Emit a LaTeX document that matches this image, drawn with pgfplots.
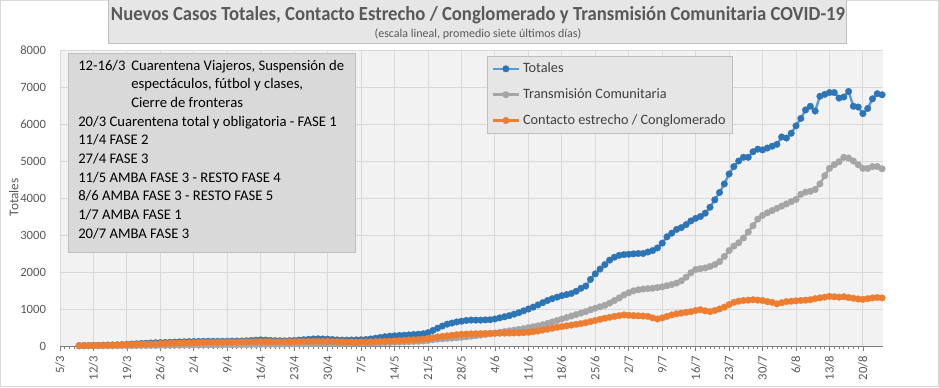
\documentclass[border=0pt]{standalone}
\usepackage{fontspec}
\setmainfont{Carlito}
\newfontfamily\ttlf{Carlito}[FakeStretch=0.935]
\usepackage{pgfplots}
\usepackage{pgfplotstable}
\pgfplotsset{compat=1.18}
\definecolor{bgc}{HTML}{F2F2F2}
\definecolor{gridc}{HTML}{D9D9D9}
\definecolor{axc}{HTML}{7F7F7F}
\definecolor{tickc}{HTML}{595959}
\definecolor{bluemk}{HTML}{2E75B6}
\definecolor{blueln}{HTML}{5B9BD5}
\definecolor{grayc}{HTML}{A5A5A5}
\definecolor{orangec}{HTML}{ED7D31}
\definecolor{boxfill}{HTML}{D9D9D9}
\definecolor{boxdraw}{HTML}{BFBFBF}
\definecolor{legfill}{HTML}{E6E6E6}
\definecolor{txtc}{HTML}{404040}

\pgfplotstableread{
day tot tc ce
4 10 2 8
5 12 2 10
6 15 3 12
7 18 3 14
8 20 4 16
9 22 4 18
10 25 5 20
11 28 5 24
12 32 6 28
13 38 7 32
14 45 8 36
15 52 9 40
16 60 10 44
17 68 11 48
18 75 12 52
19 82 13 56
20 88 14 60
21 92 15 64
22 96 17 68
23 100 18 72
24 105 20 76
25 110 21 80
26 115 22 84
27 118 24 88
28 122 25 92
29 125 26 95
30 126 27 98
31 128 28 100
32 128 29 100
33 127 30 102
34 128 31 104
35 130 32 105
36 132 33 106
37 133 34 108
38 135 35 110
39 140 36 112
40 148 38 115
41 158 40 118
42 165 42 120
43 160 43 118
44 150 44 116
45 145 45 115
46 142 46 114
47 140 47 115
48 145 48 116
49 150 50 118
50 160 52 120
51 170 54 122
52 180 56 124
53 190 58 125
54 195 60 126
55 190 62 125
56 185 63 124
57 175 64 122
58 165 65 118
59 160 66 114
60 160 67 110
61 162 68 108
62 165 70 108
63 168 72 110
64 175 75 112
65 190 78 115
66 210 82 118
67 230 86 122
68 250 90 126
69 265 95 130
70 275 100 135
71 285 105 145
72 290 110 155
73 300 115 165
74 310 120 170
75 320 125 175
76 330 135 185
77 360 150 200
78 420 170 225
79 480 185 245
80 540 195 260
81 590 205 275
82 620 215 290
83 650 225 305
84 670 235 315
85 690 250 322
86 700 265 328
87 700 280 332
88 700 295 335
89 705 310 338
90 710 330 340
91 730 350 342
92 760 370 345
93 790 390 348
94 820 410 350
95 860 430 352
96 900 450 355
97 950 470 360
98 1000 495 370
99 1050 520 385
100 1110 545 405
101 1170 575 430
102 1230 610 455
103 1280 650 480
104 1320 690 505
105 1360 730 525
106 1390 770 545
107 1420 810 565
108 1480 850 585
109 1560 890 605
110 1620 930 630
111 1800 980 660
112 1950 1020 690
113 2080 1060 720
114 2200 1100 750
115 2320 1160 775
116 2400 1230 800
117 2450 1300 820
118 2470 1380 840
119 2480 1440 830
120 2490 1490 820
121 2500 1520 815
122 2500 1540 810
123 2540 1550 800
124 2580 1560 760
125 2650 1580 730
126 2780 1600 760
127 2950 1630 800
128 3050 1660 840
129 3150 1700 870
130 3200 1760 890
131 3280 1860 910
132 3380 1980 930
133 3450 2070 960
134 3500 2090 980
135 3590 2110 950
136 3750 2150 930
137 3950 2200 960
138 4150 2280 1000
139 4380 2420 1050
140 4650 2580 1120
141 4850 2700 1180
142 5000 2790 1210
143 5100 2920 1230
144 5100 3080 1240
145 5250 3250 1250
146 5320 3430 1240
147 5300 3530 1230
148 5350 3600 1200
149 5400 3660 1180
150 5450 3720 1140
151 5650 3780 1170
152 5620 3840 1200
153 5750 3900 1210
154 5950 3960 1220
155 6150 4100 1230
156 6380 4160 1240
157 6480 4180 1250
158 6350 4230 1280
159 6750 4380 1300
160 6800 4600 1320
161 6850 4800 1340
162 6850 4900 1330
163 6700 4980 1320
164 6730 5100 1330
165 6880 5080 1310
166 6480 5000 1290
167 6460 4900 1270
168 6280 4800 1260
169 6420 4800 1280
170 6680 4850 1300
171 6820 4850 1310
172 6790 4790 1300
}\data

\begin{document}
\begin{tikzpicture}
\begin{axis}[
  at={(45pt,30.75pt)}, anchor=south west,
  scale only axis, width=617.25pt, height=222pt,
  xmin=0, xmax=172.2, ymin=0, ymax=8000,
  xtick={0,7,...,168},
  xticklabels={5/3,12/3,19/3,26/3,2/4,9/4,16/4,23/4,30/4,7/5,14/5,21/5,28/5,4/6,11/6,18/6,25/6,2/7,9/7,16/7,23/7,30/7,6/8,13/8,20/8},
  minor x tick num=6,
  ytick={0,1000,...,8000},
  grid=major,
  major grid style={draw=gridc, line width=0.75pt},
  axis background/.style={fill=bgc},
  axis x line*=bottom, axis y line*=left,
  x axis line style={draw=axc, line width=0.75pt, -},
  y axis line style={draw=none},
  ytick style={draw=none},
  xtick style={draw=axc, line width=0.6pt},
  tick align=outside, major tick length=4pt, minor tick length=2.5pt,
  /pgf/number format/assume math mode=true,
  scaled y ticks=false,
  yticklabel style={/pgf/number format/1000 sep={}, font=\fontsize{9.5}{10}\selectfont, text=tickc, xshift=-3pt},
  xticklabel style={rotate=90, anchor=east, font=\fontsize{9.5}{10}\selectfont, text=tickc},
  ylabel={Totales},
  ylabel style={at={(axis description cs:-0.056,0.503)}, anchor=center, font=\fontsize{10}{11}\selectfont, text=tickc},
  legend cell align=left,
  legend style={at={(axis description cs:0.519,0.98)}, anchor=north west,
    fill=legfill, draw=boxdraw, font=\fontsize{10.7}{12}\selectfont, text=txtc,
    inner xsep=3pt, inner ysep=3pt, row sep=6.5pt},
  legend image code/.code={\draw[#1, mark repeat=2, mark phase=2] plot coordinates {(0cm,0cm) (0.35cm,0cm) (0.7cm,0cm)};},
]
\addplot[draw=blueln, line width=1.8pt, mark=*, mark size=2.5pt, mark options={draw=bluemk, fill=bluemk, line width=0.2pt}] table[x=day, y=tot] {\data};
\addlegendentry{Totales}
\addplot[draw=grayc, line width=1.8pt, mark=*, mark size=2.5pt, mark options={draw=grayc, fill=grayc, line width=0.2pt}] table[x=day, y=tc] {\data};
\addlegendentry{Transmisión Comunitaria}
\addplot[draw=orangec, line width=1.8pt, mark=*, mark size=2.5pt, mark options={draw=orangec, fill=orangec, line width=0.2pt}] table[x=day, y=ce] {\data};
\addlegendentry{Contacto estrecho / Conglomerado}
\end{axis}
\begin{scope}[x=0.75pt, y=-0.75pt, shift={(0pt,290.25pt)}]
  % outer frame
  \draw[gridc, line width=0.75pt] (0.5,0.5) rectangle (938.5,386.5);
  % title box
  \draw[boxdraw, fill=legfill, line width=0.75pt] (108,-2) rectangle (846,43);
  \node[anchor=base, text=tickc, font=\ttlf\bfseries\fontsize{15}{16}\selectfont, inner sep=0pt] at (478,20) {Nuevos Casos Totales, Contacto Estrecho / Conglomerado y Transmisión Comunitaria COVID-19};
  \node[anchor=base, text=tickc, font=\fontsize{9}{10}\selectfont, inner sep=0pt] at (478,37.5) {(escala lineal, promedio siete últimos días)};
  % annotation box
  \draw[boxdraw, fill=boxfill, line width=0.75pt] (68,53) rectangle (355,252);
  \begin{scope}[every node/.style={anchor=base west, inner sep=0pt, font=\fontsize{11}{12}\selectfont, text=black}]
    \node at (78,70) {12-16/3};
    \node at (131,70) {Cuarentena Viajeros, Suspensión de};
    \node at (131,88.7) {espectáculos, fútbol y clases,};
    \node at (131,107.4) {Cierre de fronteras};
    \node at (78,126.1) {20/3 Cuarentena total y obligatoria - FASE 1};
    \node at (78,144.8) {11/4 FASE 2};
    \node at (78,163.5) {27/4 FASE 3};
    \node at (78,182.2) {11/5 AMBA FASE 3 - RESTO FASE 4};
    \node at (78,200.9) {8/6 AMBA FASE 3 - RESTO FASE 5};
    \node at (78,219.6) {1/7 AMBA FASE 1};
    \node at (78,238.3) {20/7 AMBA FASE 3};
  \end{scope}
\end{scope}
\pgfresetboundingbox
\path (0pt,0pt) rectangle (704.25pt,290.25pt);
\end{tikzpicture}
\end{document}
